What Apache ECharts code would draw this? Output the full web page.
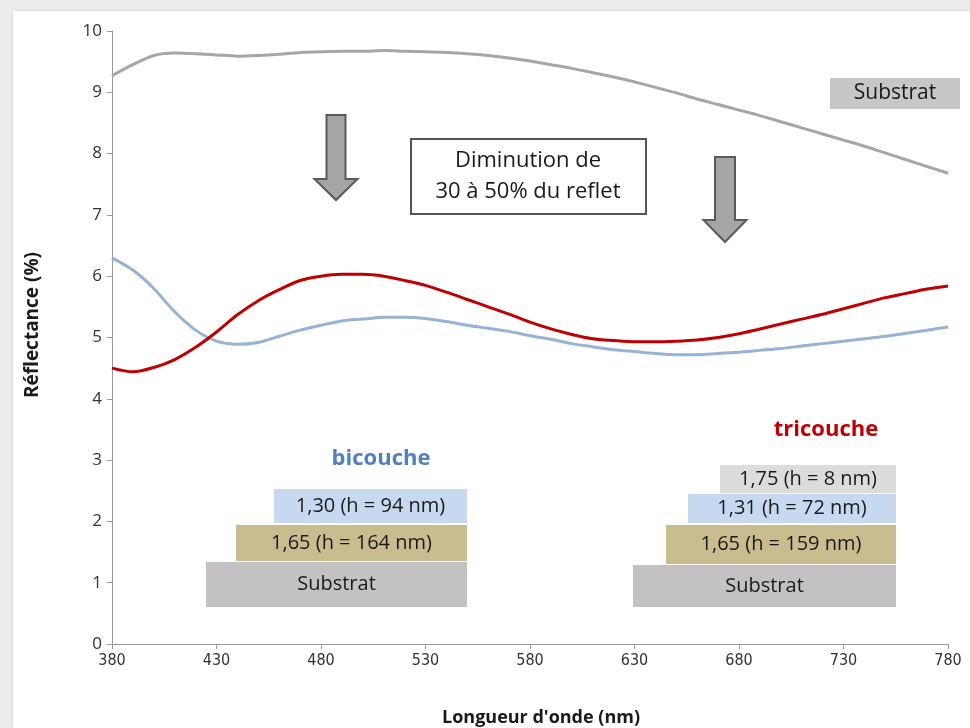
<!DOCTYPE html>
<html>
<head>
<meta charset="utf-8">
<script src="https://cdn.jsdelivr.net/npm/echarts@6/dist/echarts.min.js"></script>
<style>
html,body{margin:0;padding:0;background:#ececec;}
#frame{position:absolute;left:13px;top:11px;width:957px;height:717px;background:#fff;box-shadow:0 0 4px rgba(0,0,0,0.12);}
#chart{position:absolute;left:0;top:0;width:970px;height:728px;}
</style>
</head>
<body>
<div id="frame"></div>
<div id="chart"></div>
<script>
// Wavelengths (nm)
const wavelengths = [380,390,400,410,420,430,440,450,460,470,480,490,500,510,520,530,540,550,560,570,580,590,600,610,620,630,640,650,660,670,680,690,700,710,720,730,740,750,760,770,780];
// Reflectance (%) of the bare substrate
const substrat = [9.27,9.45,9.60,9.64,9.63,9.61,9.59,9.60,9.62,9.65,9.66,9.67,9.67,9.68,9.67,9.66,9.65,9.63,9.60,9.56,9.51,9.45,9.39,9.32,9.25,9.17,9.08,8.99,8.89,8.80,8.71,8.62,8.52,8.42,8.32,8.22,8.12,8.01,7.90,7.79,7.68];
// Reflectance (%) of the bilayer coating
const bicouche = [6.30,6.10,5.80,5.42,5.12,4.94,4.89,4.92,5.02,5.12,5.20,5.27,5.30,5.33,5.33,5.31,5.26,5.20,5.15,5.10,5.03,4.97,4.90,4.85,4.80,4.77,4.74,4.72,4.72,4.74,4.76,4.79,4.82,4.86,4.90,4.94,4.98,5.02,5.07,5.12,5.17];
// Reflectance (%) of the trilayer coating
const tricouche = [4.50,4.44,4.51,4.64,4.84,5.09,5.37,5.60,5.78,5.93,6.00,6.03,6.03,6.00,5.93,5.85,5.74,5.62,5.50,5.38,5.25,5.14,5.05,4.98,4.95,4.93,4.93,4.94,4.96,5.00,5.06,5.14,5.22,5.30,5.38,5.47,5.56,5.65,5.72,5.79,5.84];
// Axis ticks
const xTicks = [380,430,480,530,580,630,680,730,780];
const yTicks = [0,1,2,3,4,5,6,7,8,9,10];

const FONT = 'Open Sans, Lato, sans-serif';
const pair = arr => wavelengths.map((w,i)=>[w,arr[i]]);

function box(x,y,w,h,fill,label,fs){
  return [
    {type:'rect',left:x,top:y,shape:{width:w,height:h},style:{fill:fill},z:10},
    {type:'text',x:x+w/2,y:y+h/2,style:{text:label,fill:'#1a1a1a',font:(fs||20)+'px '+FONT,textAlign:'center',textVerticalAlign:'middle'},z:11}
  ];
}
function arrow(cx,top,shaftW,shaftBottom,headW,tip){
  const sw=shaftW/2, hw=headW/2;
  return {type:'polygon',shape:{points:[[cx-sw,top],[cx+sw,top],[cx+sw,shaftBottom],[cx+hw,shaftBottom],[cx,tip],[cx-hw,shaftBottom],[cx-sw,shaftBottom]]},
    style:{fill:'#a6a6a6',stroke:'#5a5a5a',lineWidth:2},z:10};
}

const chart = echarts.init(document.getElementById('chart'), null, {renderer:'canvas'});
const graphics = [].concat(
  [arrow(336,115,19,179,43,200), arrow(725,157,20,220,43,242)],
  [{type:'rect',left:410,top:138,shape:{width:235,height:75},style:{fill:'#fff',stroke:'#555',lineWidth:2},z:10},
   {type:'text',x:528,y:176,style:{text:'Diminution de\n30 à 50% du reflet',fill:'#1a1a1a',font:'22px '+FONT,textAlign:'center',textVerticalAlign:'middle',lineHeight:31},z:11}],
  box(830,78,130,31,'#c8c6c6','Substrat',21),
  [{type:'text',x:381,y:459,style:{text:'bicouche',fill:'#4f81bd',font:'bold 22px '+FONT,textAlign:'center',textVerticalAlign:'middle'},z:11}],
  box(274,489,193,34,'#c6d9f0','1,30 (h = 94 nm)'),
  box(236,525,231,36,'#c9bd8f','1,65 (h = 164 nm)'),
  box(206,562,261,45,'#c3c1c1','Substrat'),
  [{type:'text',x:826,y:430,style:{text:'tricouche',fill:'#c00000',font:'bold 22px '+FONT,textAlign:'center',textVerticalAlign:'middle'},z:11}],
  box(720,465,176,28,'#dcdcdc','1,75 (h = 8 nm)'),
  box(688,494,208,29,'#c6d9f0','1,31 (h = 72 nm)'),
  box(666,525,230,39,'#c9bd8f','1,65 (h = 159 nm)'),
  box(633,565,263,42,'#c3c1c1','Substrat'),
  [{type:'text',x:541,y:718,style:{text:'Longueur d\'onde (nm)',fill:'#1a1a1a',font:'bold 18px '+FONT,textAlign:'center',textVerticalAlign:'middle'},z:11},
   {type:'text',x:33,y:325,rotation:Math.PI/2,style:{text:'Réflectance (%)',fill:'#1a1a1a',font:'bold 19px '+FONT,textAlign:'center',textVerticalAlign:'middle'},z:11}]
);

chart.setOption({
  backgroundColor:'transparent',
  animation:false,
  grid:{left:112,right:22,top:31,bottom:84,containLabel:false},
  xAxis:{
    type:'value',min:380,max:780,interval:50,
    axisLine:{show:true,lineStyle:{color:'#999',width:1}},
    axisTick:{show:true,inside:false,length:5,lineStyle:{color:'#999'}},
    axisLabel:{color:'#333',fontSize:16,fontFamily:'DejaVu Sans Condensed, Liberation Sans Narrow, sans-serif',margin:9,
      customValues:xTicks},
    splitLine:{show:false}
  },
  yAxis:{
    type:'value',min:0,max:10,interval:1,
    axisLine:{show:true,lineStyle:{color:'#999',width:1}},
    axisTick:{show:true,inside:false,length:5,lineStyle:{color:'#999'}},
    axisLabel:{color:'#333',fontSize:17,fontFamily:FONT,margin:10,customValues:yTicks},
    splitLine:{show:false}
  },
  series:[
    {name:'Substrat',type:'line',data:pair(substrat),smooth:0.3,showSymbol:false,lineStyle:{color:'#a6a6a6',width:3},z:3},
    {name:'bicouche',type:'line',data:pair(bicouche),smooth:0.3,showSymbol:false,lineStyle:{color:'#95b3d7',width:3},z:4},
    {name:'tricouche',type:'line',data:pair(tricouche),smooth:0.3,showSymbol:false,lineStyle:{color:'#c00000',width:3},z:5}
  ],
  graphic:graphics
});
</script>
</body>
</html>
